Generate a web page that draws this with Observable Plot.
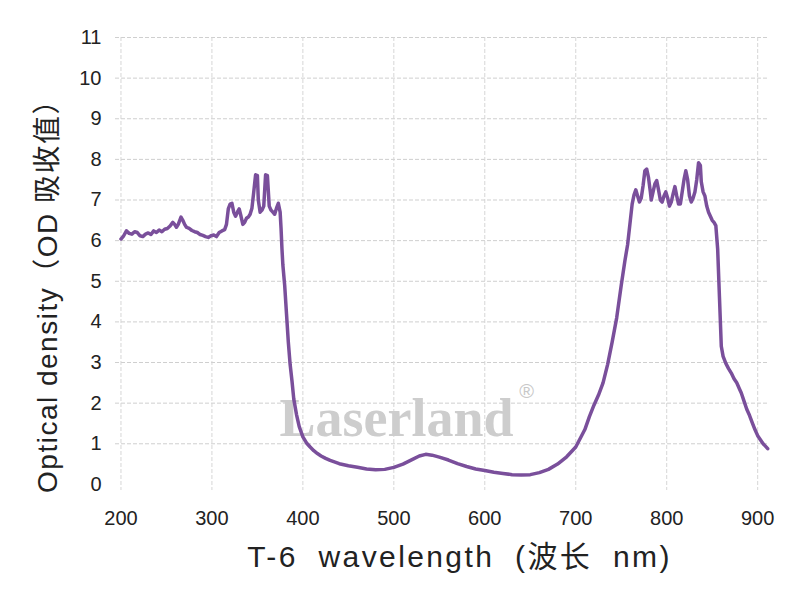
<!DOCTYPE html>
<html>
<head>
<meta charset="utf-8">
<script src="https://cdn.jsdelivr.net/npm/d3@7"></script>
<script src="https://cdn.jsdelivr.net/npm/@observablehq/plot@0.6"></script>
<style>
  html, body { margin: 0; padding: 0; background: #fff; }
</style>
</head>
<body>
<div id="chart"></div>
<script>
// Wavelength (nm)
const wavelength = [
  200,203,206,209,212,215,218,221,224,227,230,233,236,239,242,245,248,251,254,257,259,261,263,266,268,270,272,275,278,281,284,287,290,293,296,299,302,305,308,311,314,316,318,320,322,324,326,328,330,332,334,336,338,340,342,344,346,348,350,351,353,355,357,359,361,363,365,367,369,371,373,375,376,377,378,380,382,384,386,388,390,393,396,400,404,408,412,416,420,425,430,440,450,460,470,480,490,500,510,520,528,535,542,550,560,570,580,590,600,610,620,630,640,650,660,670,680,690,700,710,715,720,725,730,735,740,745,750,754,757,760,762,764,766,768,770,772,774,776,778,780,782,783,785,787,789,791,793,795,797,799,801,803,805,807,809,811,813,815,817,819,821,823,825,827,829,831,833,835,837,838,840,842,844,846,848,850,852,854,856,858,860,862,865,868,871,874,877,880,882,885,888,891,894,897,900,903,906,909,911
];
// Optical density (OD)
const opticalDensity = [
  6.04,6.12,6.24,6.18,6.16,6.22,6.2,6.12,6.1,6.16,6.19,6.15,6.24,6.2,6.26,6.22,6.28,6.3,6.36,6.45,6.4,6.33,6.4,6.58,6.5,6.4,6.33,6.3,6.25,6.22,6.2,6.15,6.13,6.1,6.08,6.12,6.14,6.1,6.2,6.24,6.27,6.4,6.78,6.9,6.92,6.7,6.6,6.7,6.78,6.6,6.4,6.45,6.55,6.58,6.65,6.8,7.2,7.62,7.6,7.0,6.7,6.75,6.85,7.62,7.6,6.85,6.75,6.7,6.65,6.8,6.92,6.7,6.3,5.8,5.4,4.9,4.2,3.5,2.95,2.55,2.1,1.72,1.42,1.17,1.02,0.92,0.83,0.76,0.7,0.64,0.59,0.51,0.46,0.42,0.38,0.36,0.37,0.42,0.5,0.61,0.7,0.74,0.72,0.67,0.6,0.51,0.44,0.38,0.34,0.3,0.27,0.24,0.23,0.24,0.29,0.37,0.5,0.68,0.92,1.35,1.67,1.95,2.2,2.5,2.95,3.5,4.1,4.9,5.5,5.9,6.5,6.9,7.12,7.25,7.1,6.95,7.05,7.35,7.72,7.76,7.55,7.2,7.0,7.2,7.4,7.48,7.25,7.0,6.95,7.1,7.2,7.05,6.85,6.95,7.15,7.33,7.1,6.9,6.9,7.2,7.5,7.72,7.5,7.1,6.95,7.05,7.2,7.5,7.92,7.85,7.45,7.2,7.1,6.85,6.7,6.6,6.5,6.45,6.37,5.8,4.6,3.4,3.15,2.98,2.85,2.74,2.6,2.5,2.35,2.25,2.05,1.85,1.7,1.52,1.35,1.2,1.1,1.0,0.93,0.88
];
const xTicks = [200, 300, 400, 500, 600, 700, 800, 900];
const yTicks = [0, 1, 2, 3, 4, 5, 6, 7, 8, 9, 10, 11];
const yGrid = [1, 2, 3, 4, 5, 6, 7, 8, 9, 10, 11];
const xTitle = ["T-6 wavelength (波长 nm)"];
const yTitle = ["Optical density（OD 吸收值）"];
const watermark = [{label: "Laserland", nm: 503, od: 1.62}];
const watermarkMark = [{label: "®", nm: 646, od: 2.28}];

const data = wavelength.map((w, i) => ({nm: w, od: opticalDensity[i]}));

const chart = Plot.plot({
  width: 800,
  height: 593,
  marginLeft: 115,
  marginRight: 31,
  marginTop: 37,
  marginBottom: 103,
  style: {fontFamily: "'Liberation Sans', Arial, 'Noto Sans CJK SC', sans-serif", fontSize: "20px", color: "#222", background: "#fff"},
  x: {domain: [194, 913], ticks: xTicks, tickSize: 0, tickPadding: 20, label: null},
  y: {domain: [-0.15, 11], ticks: yTicks, tickSize: 0, tickPadding: 14, label: null},
  marks: [
    Plot.ruleY(yGrid, {stroke: "#cfcfcf", strokeWidth: 1, strokeDasharray: "4,2"}),
    Plot.ruleX(xTicks, {stroke: "#d6d6d6", strokeWidth: 1, strokeDasharray: "4,2"}),
    Plot.text(watermark, {x: "nm", y: "od", text: "label", fontSize: 54, fontWeight: "bold", fontFamily: "'Liberation Serif', serif", fill: "#cdcdcd"}),
    Plot.text(watermarkMark, {x: "nm", y: "od", text: "label", fontSize: 20, fill: "#c8c8c8"}),
    Plot.line(data, {x: "nm", y: "od", stroke: "#7a4f9b", strokeWidth: 3.5, strokeLinejoin: "round", strokeLinecap: "round"}),
    Plot.text(xTitle, {text: d => d, frameAnchor: "bottom", textAnchor: "middle", dy: 67, dx: 17, lineAnchor: "middle", fontSize: 30, fill: "#222"}),
    Plot.text(yTitle, {text: d => d, frameAnchor: "left", textAnchor: "middle", rotate: -90, dx: -67, dy: 25, lineAnchor: "middle", fontSize: 28, fill: "#222"})
  ]
});
document.getElementById("chart").appendChild(chart);
// letter spacing on titles
d3.select(chart).selectAll("text").each(function() {
  const t = this.textContent;
  if (t === xTitle[0]) { this.setAttribute("letter-spacing", "2.4"); this.setAttribute("word-spacing", "10"); }
  if (t === yTitle[0]) { this.setAttribute("letter-spacing", "1.5"); }
});
</script>
</body>
</html>
